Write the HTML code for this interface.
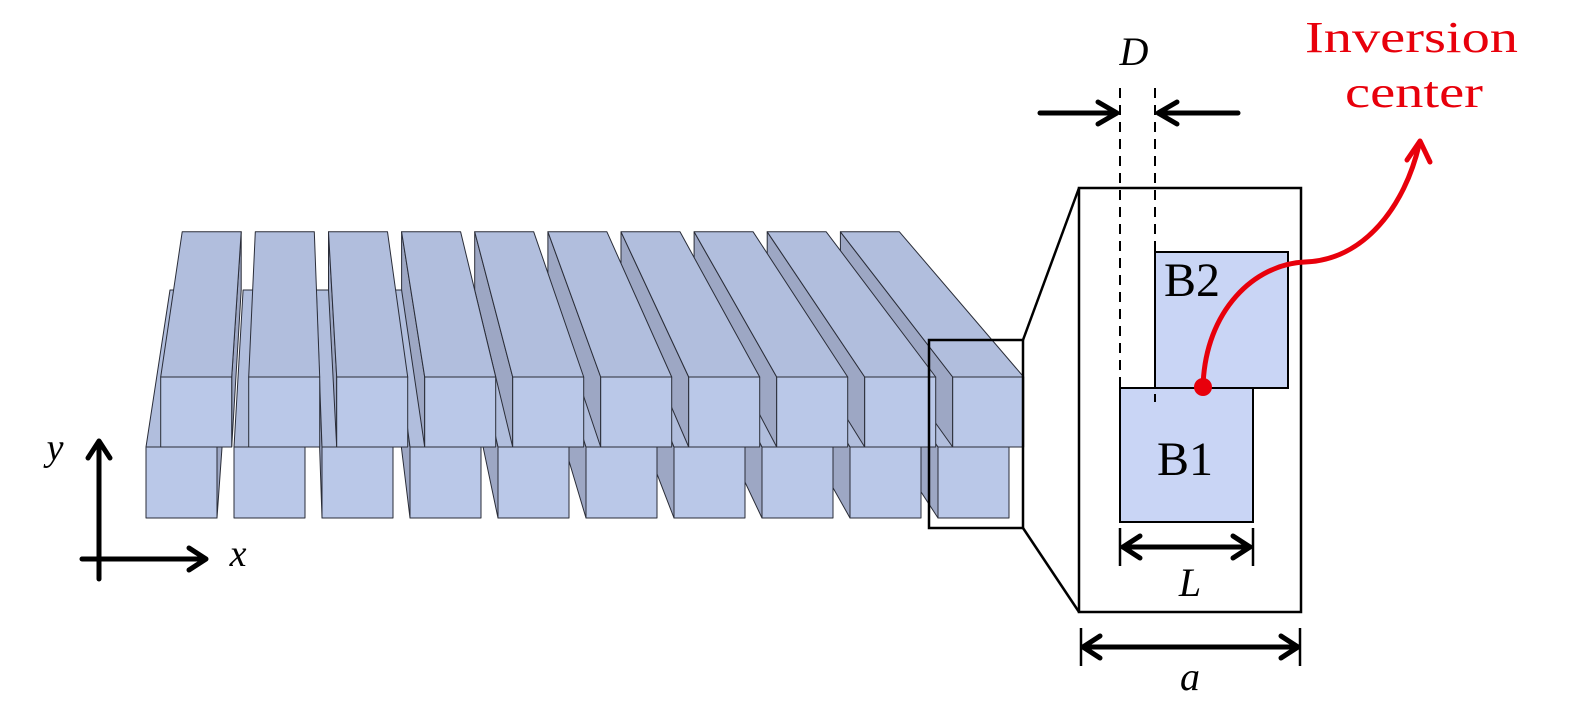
<!DOCTYPE html>
<html><head><meta charset="utf-8"><style>
html,body{margin:0;padding:0;background:#fff;width:1575px;height:719px;overflow:hidden}
svg{display:block}
</style></head><body>
<svg id="s" width="1575" height="719" viewBox="0 0 1575 719" xmlns="http://www.w3.org/2000/svg">
<g id="bars"></g>
<!-- inset box -->
<rect x="929" y="340" width="94" height="188" fill="none" stroke="#000" stroke-width="2.5"/>
<line x1="1023" y1="340" x2="1079" y2="188" stroke="#000" stroke-width="2.5"/>
<line x1="1023" y1="528" x2="1079" y2="612" stroke="#000" stroke-width="2.5"/>
<rect x="1079" y="188" width="222" height="424" fill="none" stroke="#000" stroke-width="2.5"/>
<!-- B2, B1 -->
<rect x="1155" y="252" width="133" height="136" fill="#c9d5f5" stroke="#000" stroke-width="2"/>
<rect x="1120" y="388" width="133" height="134" fill="#c9d5f5" stroke="#000" stroke-width="2"/>
<line x1="1120" y1="388" x2="1155" y2="388" stroke="#000" stroke-width="2"/>
<text x="1164" y="296" font-family="Liberation Serif, serif" font-size="48">B2</text>
<text x="1157" y="475" font-family="Liberation Serif, serif" font-size="48">B1</text>
<!-- dashed lines -->
<line x1="1120" y1="88" x2="1120" y2="402" stroke="#000" stroke-width="2" stroke-dasharray="10,7"/>
<line x1="1155" y1="88" x2="1155" y2="402" stroke="#000" stroke-width="2" stroke-dasharray="10,7"/>
<!-- D arrows -->
<g stroke="#000" stroke-width="5" fill="none" stroke-linecap="round" stroke-linejoin="round">
<line x1="1040" y1="113" x2="1116" y2="113"/>
<polyline points="1098,102 1117,113 1098,124"/>
<line x1="1238" y1="113" x2="1160" y2="113"/>
<polyline points="1177,102 1158,113 1177,124"/>
<!-- L arrow -->
<line x1="1123" y1="547" x2="1250" y2="547"/>
<polyline points="1140,536 1123,547 1140,558"/>
<polyline points="1233,536 1250,547 1233,558"/>
<!-- a arrow -->
<line x1="1083" y1="647" x2="1298" y2="647"/>
<polyline points="1100,636 1083,647 1100,658"/>
<polyline points="1281,636 1298,647 1281,658"/>
<!-- axes -->
<line x1="99" y1="442" x2="99" y2="579"/>
<polyline points="88,458 99,441 110,458"/>
<line x1="82" y1="559" x2="205" y2="559"/>
<polyline points="189,548 206,559 189,570"/>
</g>
<g stroke="#000" stroke-width="2.5">
<line x1="1120" y1="528" x2="1120" y2="566"/><line x1="1253" y1="528" x2="1253" y2="566"/>
<line x1="1081" y1="628" x2="1081" y2="666"/><line x1="1300" y1="628" x2="1300" y2="666"/>
</g>
<text x="1134" y="65" font-family="Liberation Serif, serif" font-style="italic" font-size="40" text-anchor="middle">D</text>
<text x="1190" y="596" font-family="Liberation Serif, serif" font-style="italic" font-size="40" text-anchor="middle">L</text>
<text x="1190" y="690" font-family="Liberation Serif, serif" font-style="italic" font-size="40" text-anchor="middle">a</text>
<text x="55" y="460" font-family="Liberation Serif, serif" font-style="italic" font-size="38" text-anchor="middle">y</text>
<text x="238" y="566" font-family="Liberation Serif, serif" font-style="italic" font-size="38" text-anchor="middle">x</text>
<!-- inversion center -->
<text x="1305" y="52" font-family="Liberation Serif, serif" font-size="44" fill="#e8000b" textLength="213" lengthAdjust="spacingAndGlyphs">Inversion</text>
<text x="1345" y="107" font-family="Liberation Serif, serif" font-size="44" fill="#e8000b" textLength="138" lengthAdjust="spacingAndGlyphs">center</text>
<path d="M1203,387 C1205,310 1255,264 1305,262 C1365,260 1405,205 1419,145" fill="none" stroke="#e8000b" stroke-width="5" stroke-linecap="round"/>
<polyline points="1407,160 1420,141 1430,162" fill="none" stroke="#e8000b" stroke-width="5" stroke-linecap="round" stroke-linejoin="round"/>
<circle cx="1203" cy="387" r="9" fill="#e8000b"/>
</svg>
<script>
(function(){
var VX=288,VY=-482,S=0.831,W=71;
function bk(p){return [VX+S*(p[0]-VX),VY+S*(p[1]-VY)];}
function pts(a){return a.map(function(p){return p[0].toFixed(1)+","+p[1].toFixed(1);}).join(" ");}
var g=document.getElementById("bars"),out="";
function row(x0s,y0,y1){
  var list=x0s.slice().sort(function(a,b){return Math.abs(b+W/2-VX)-Math.abs(a+W/2-VX);});
  list.forEach(function(x0){
    var x1=x0+W;
    var FL=[x0,y0],FR=[x1,y0],BL=[x0,y1],BR=[x1,y1];
    var st=' stroke="#2a2d38" stroke-width="1" stroke-linejoin="round"';
    if(x0>VX) out+='<polygon points="'+pts([FL,bk(FL),bk(BL),BL])+'" fill="#9da7c4"'+st+'/>';
    if(x1<VX) out+='<polygon points="'+pts([FR,bk(FR),bk(BR),BR])+'" fill="#9da7c4"'+st+'/>';
    out+='<polygon points="'+pts([FL,FR,bk(FR),bk(FL)])+'" fill="#b1bedd"'+st+'/>';
    out+='<rect x="'+x0+'" y="'+y0+'" width="'+W+'" height="'+(y1-y0)+'" fill="#bac8e8"'+st+'/>';
  });
}
var lo=[],up=[];
for(var k=0;k<10;k++){lo.push(146+88*k);up.push(160.7+88*k);}
row(lo,447,518);
row(up,377,447);
g.innerHTML=out;
})();
</script>
</body></html>
